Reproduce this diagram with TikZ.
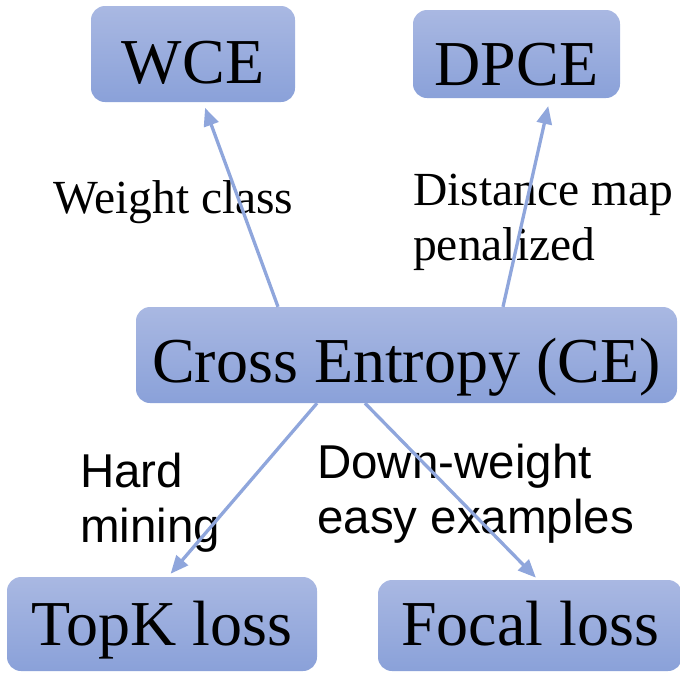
\documentclass[tikz,border=0pt]{standalone}
\usepackage{fontspec}
\setmainfont{Liberation Serif}
\newfontfamily\sansf{Liberation Sans}
\usetikzlibrary{arrows.meta,calc}
\definecolor{boxtop}{HTML}{A9B8E2}
\definecolor{boxbot}{HTML}{8AA1D9}
\definecolor{arrowc}{HTML}{8FA6DC}
\begin{document}
\begin{tikzpicture}[x=1pt,y=-1pt,
  box/.style={rounded corners=14pt, top color=boxtop, bottom color=boxbot, draw=none,
    inner sep=0pt, text depth=0pt, font=\fontsize{64}{70}\selectfont},
  conn/.style={draw=arrowc, line width=3.3pt, -{Triangle[length=18pt,width=15pt]}},
  lbl/.style={anchor=base west, inner sep=0pt, font=\fontsize{47.5}{55}\selectfont},
  slbl/.style={lbl, font=\sansf\fontsize{47.5}{55}\selectfont}]
\useasboundingbox (0,0) rectangle (680,673);
\clip (0,0) rectangle (680,673);
% boxes
\node[box, minimum width=204pt, minimum height=96pt, text height=58pt] (wce) at (193,54) {WCE};
\node[box, minimum width=207pt, minimum height=88pt, text height=62pt] (dpce) at (516.5,54) {DPCE};
\node[box, minimum width=541pt, minimum height=96pt, text height=54pt] (ce) at (406.5,355) {Cross Entropy (CE)};
\node[box, minimum width=310pt, minimum height=94pt, text height=42pt] (topk) at (162,624) {TopK loss};
\node[box, minimum width=304pt, minimum height=91pt, text height=39pt] (focal) at (530,625.5) {Focal loss};
% labels
\node[lbl] (lw) at (53,213) {Weight class};
\node[lbl] (ld) at (413,205) {\begin{tabular}[t]{@{}l@{}}Distance map\\penalized\end{tabular}};
\node[slbl] (lh) at (80,487) {\begin{tabular}[t]{@{}l@{}}Hard\\mining\end{tabular}};
\node[slbl] (le) at (317,478) {\begin{tabular}[t]{@{}l@{}}Down-weight\\easy examples\end{tabular}};
% connectors
\draw[conn, shorten >=6pt] ([xshift=-128.5pt]ce.north) -- ([xshift=10pt]wce.south);
\draw[conn, shorten >=8pt] ([xshift=96.5pt]ce.north) -- ([xshift=33.5pt]dpce.south);
\draw[conn, shorten >=4pt] ([xshift=-89.5pt]ce.south) -- ([xshift=6pt]topk.north);
\draw[conn, shorten >=3pt] ([xshift=-41.5pt]ce.south) -- ([xshift=8pt]focal.north);
\end{tikzpicture}
\end{document}
